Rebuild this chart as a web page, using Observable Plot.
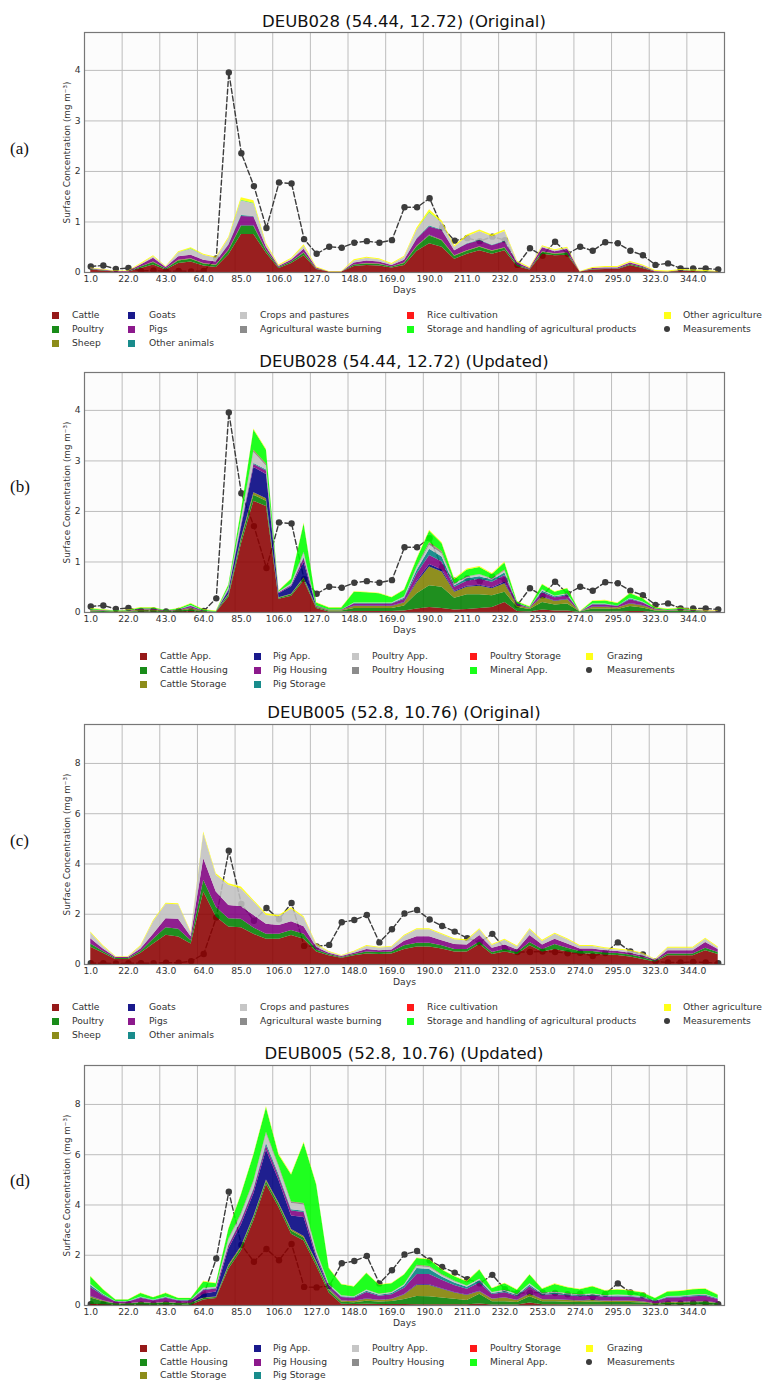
<!DOCTYPE html>
<html><head><meta charset="utf-8">
<script src="https://cdn.jsdelivr.net/npm/d3@7"></script>
<script src="https://cdn.jsdelivr.net/npm/@observablehq/plot@0.6"></script>
<style>
body{margin:0;background:#fff;}
#page{position:relative;width:764px;height:1381px;overflow:hidden;font-family:"DejaVu Sans",sans-serif;background:#fff;}
.title{position:absolute;left:84px;width:640px;text-align:center;font-size:16.5px;color:#111;line-height:1;transform:translateY(-50%);white-space:nowrap;}
.plabel{position:absolute;left:10px;font-family:"Liberation Serif",serif;font-size:17px;color:#111;line-height:1;transform:translateY(-50%);}
.leg{position:absolute;font-size:9.2px;color:#333;white-space:nowrap;line-height:1;transform:translateY(-50%);}
.sw{position:absolute;width:7px;height:7px;opacity:0.9;}
.md{position:absolute;width:6px;height:6px;border-radius:50%;background:#3c3c3c;}
.panel{position:absolute;left:0;}
</style></head><body><div id="page"></div>
<script>
// ---------- axis ticks ----------
const tickIdx = [0,3,6,9,12,15,18,21,24,27,30,33,36,39,42,45,48];
const dayLabels = ["1.0","22.0","43.0","64.0","85.0","106.0","127.0","148.0","169.0","190.0","211.0","232.0","253.0","274.0","295.0","323.0","344.0"];
const yTicksAB = [0,1,2,3,4];
const yTicksCD = [0,2,4,6,8];

// ---------- categories ----------
const origNames = ["Cattle","Poultry","Sheep","Goats","Pigs","Other animals","Crops and pastures","Agricultural waste burning","Rice cultivation","Storage and handling of agricultural products","Other agriculture"];
const updNames = ["Cattle App.","Cattle Housing","Cattle Storage","Pig App.","Pig Housing","Pig Storage","Poultry App.","Poultry Housing","Poultry Storage","Mineral App.","Grazing"];
const palette = ["#8b0000","#008000","#808000","#000080","#800080","#008080","#c0c0c0","#808080","#ff0000","#00ff00","#ffff00"];

// ---------- measurements ----------
const measDEUB028 = [.12,.14,.07,.09,.03,.04,.02,.03,.02,.03, .28,3.96,2.36,1.71,.88,1.78,1.76,.66,.37,.51, .49,.59,.62,.59,.64,1.29,1.29,1.47,.89,.63, .68,.62,.71,.64,.15,.48,.33,.61,.37,.51, .43,.60,.58,.43,.34,.15,.18,.08,.08,.08,.06];
const measDEUB005 = [.05,.05,.04,.05,.05,.05,.07,.07,.13,.42, 1.87,4.53,2.41,1.74,2.25,1.80,2.45,.74,.72,.78, 1.68,1.77,1.97,.88,1.40,2.03,2.17,1.79,1.53,1.31, 1.05,.88,1.22,.65,.50,.50,.52,.50,.45,.47, .34,.46,.88,.52,.40,.12,.08,.08,.10,.08,.05];

const noContribution = [0,0,0,0,0,0,0,0,0,0, 0,0,0,0,0,0,0,0,0,0, 0,0,0,0,0,0,0,0,0,0, 0,0,0,0,0,0,0,0,0,0, 0,0,0,0,0,0,0,0,0,0,0];

// ---------- (a) DEUB028 Original ----------
const cattleA = [.05,.03,.01,.01,.08,.15,.05,.18,.21,.13, .10,.35,.75,.75,.38,.08,.18,.33,.06,.01, .01,.12,.14,.13,.09,.14,.42,.57,.50,.26, .36,.43,.36,.43,.12,.05,.36,.33,.34,.01, .05,.06,.06,.14,.08,.01,.01,.02,.02,.01,.01];
const poultryA = [.01,.01,0,0,.03,.05,.02,.05,.05,.04, .04,.08,.16,.16,.05,.02,.03,.05,.01,0, 0,.03,.03,.03,.02,.04,.09,.15,.13,.06, .06,.07,.06,.05,.03,.01,.04,.03,.04,0, .01,.01,.01,.02,.02,0,0,.01,.01,.01,0];
const sheepA = [0,0,0,0,0,.01,0,.01,.01,.01, .01,.01,.01,.01,.01,0,0,.01,0,0, 0,0,.01,.01,0,.01,.01,.01,.01,.01, .01,.01,.01,.01,0,0,.01,.01,.01,0, 0,0,0,0,0,0,0,0,0,0,0];
const goatsA = [0,0,0,0,0,0,0,0,0,0, 0,0,.01,.01,0,0,0,0,0,0, 0,0,0,0,0,0,0,.01,0,0, 0,0,0,0,0,0,0,0,0,0, 0,0,0,0,0,0,0,0,0,0,0];
const pigsA = [.01,.01,.01,.01,.04,.07,.03,.07,.07,.06, .06,.10,.18,.17,.06,.02,.03,.07,.02,0, 0,.04,.05,.04,.03,.05,.14,.16,.19,.10, .13,.12,.10,.12,.04,.02,.08,.04,.07,0, .02,.02,.02,.03,.02,.01,0,.01,0,0,0];
const otherAnimalsA = [0,0,0,0,0,0,0,0,0,0, 0,.01,.02,.01,0,0,0,0,0,0, 0,0,0,0,0,0,.01,.02,.01,0, .01,.01,.01,.01,0,0,0,0,0,0, 0,0,0,0,0,0,0,0,0,0,0];
const cropsA = [.01,0,0,0,.01,.03,.01,.08,.12,.10, .07,.12,.29,.25,.05,.01,.02,.06,0,0, 0,.04,.05,.04,.02,.06,.17,.26,.14,.07, .14,.17,.17,.19,.02,0,.02,.02,.02,0, 0,.01,.01,.01,.01,0,0,0,0,0,0];
const storageA = [0,0,0,0,0,0,0,0,.01,0, 0,0,.01,.01,0,0,0,0,0,0, 0,0,0,0,0,0,0,.01,0,0, 0,0,0,0,0,0,0,0,0,0, 0,0,0,0,0,0,0,0,0,0,0];
const otherAgrA = [.01,.01,.01,.01,.02,.02,.01,.02,.02,.02, .02,.03,.05,.05,.03,.02,.02,.03,.02,.01, .01,.02,.02,.02,.02,.02,.04,.05,.04,.03, .03,.03,.03,.03,.02,.02,.02,.02,.02,.01, .02,.02,.02,.02,.02,.02,.02,.02,.02,.02,.01];

// ---------- (b) DEUB028 Updated ----------
const cattleAppB = [.01,0,0,0,.01,.01,0,.01,.02,0, 0,.30,1.35,2.2,2.1,.26,.32,.63,.08,.01, .01,.02,.02,.02,.02,.03,.07,.10,.08,.05, .06,.08,.10,.20,.02,.01,.05,.03,.03,0, .01,.01,.01,.02,.02,0,0,0,0,0,0];
const cattleHouB = [.02,.02,.01,.01,.02,.02,.01,.02,.03,.01, .01,.04,.08,.12,.10,.02,.03,.04,.02,.02, .02,.06,.06,.06,.06,.10,.30,.43,.42,.23, .29,.27,.23,.20,.08,.05,.15,.12,.14,.01, .06,.06,.05,.10,.07,.03,.02,.03,.02,.01,.01];
const cattleStoB = [.01,.01,.01,.01,.02,.02,.01,.01,.03,.01, 0,.02,.04,.05,.05,.01,.01,.02,.01,.01, .01,.04,.04,.04,.04,.06,.22,.37,.30,.12, .15,.17,.14,.17,.03,.02,.10,.07,.08,0, .03,.03,.03,.05,.04,.02,.01,.01,.01,.01,0];
const pigAppB = [0,0,0,0,0,0,0,0,.01,0, 0,.06,.20,.50,.48,.08,.15,.30,.01,0, 0,.01,.01,.01,.01,.01,.03,.05,.04,.02, .02,.02,.02,.03,.01,0,.01,.01,.01,0, .01,.01,0,.01,.01,0,0,0,0,0,0];
const pigHouB = [.01,.01,0,.01,.02,.02,.01,.01,.03,.01, 0,.02,.04,.06,.07,.02,.02,.08,.01,.01, .01,.04,.04,.04,.04,.06,.14,.18,.16,.08, .10,.12,.11,.13,.03,.01,.08,.06,.07,0, .04,.04,.03,.07,.05,.02,.01,.02,.01,.01,.01];
const pigStoB = [0,0,0,0,0,0,0,0,.01,0, 0,.01,.02,.02,.02,0,.01,.02,0,0, 0,.01,.01,.01,.01,.02,.07,.12,.10,.03, .05,.05,.04,.05,.01,0,.03,.02,.02,0, .01,.01,.01,.02,.01,0,0,0,0,0,0];
const poultryAppB = [0,0,0,0,0,0,0,0,.01,0, 0,.03,.10,.22,.08,.01,.02,.08,0,0, 0,.01,.01,.01,.01,.02,.05,.08,.06,.03, .03,.03,.02,.04,0,0,.02,.01,.02,0, .01,.01,0,.01,.01,0,0,0,0,0,0];
const poultryHouB = [0,0,0,0,0,0,0,0,0,0, 0,.01,.02,.03,.03,0,.01,.02,0,0, 0,0,0,0,0,.01,.02,.04,.03,.01, .01,.01,.01,.01,0,0,.01,0,0,0, 0,0,0,0,0,0,0,0,0,0,0];
const poultryStoB = [0,0,0,0,0,0,0,0,0,0, 0,0,0,.01,.01,0,0,0,0,0, 0,0,0,0,0,0,0,.01,.01,0, 0,0,0,.01,0,0,0,0,0,0, 0,0,0,0,0,0,0,0,0,0,0];
const mineralB = [.02,.01,.01,.01,.02,.02,.01,.02,.03,.02, .01,.05,.15,.40,.27,.02,.09,.56,.06,.04, .04,.21,.20,.18,.10,.13,.15,.23,.16,.08, .13,.14,.08,.14,.03,.02,.10,.08,.10,0, .05,.06,.05,.09,.06,.02,.02,.02,.01,0,0];
const grazingB = [.01,.01,0,.01,.01,.01,0,.01,.01,.01, .01,.01,.02,.02,.02,.01,.01,.02,.01,.01, .01,.01,.01,.01,.01,.01,.02,.02,.02,.02, .02,.02,.02,.02,.01,.01,.01,.01,.01,.01, .01,.01,.01,.01,.01,.01,.01,.01,.01,.01,.01];

// ---------- (c) DEUB005 Original ----------
const cattleC = [.69,.45,.20,.20,.45,.82,1.16,1.09,.82,2.88, 1.89,1.49,1.46,1.20,1.00,1.00,1.15,1.00,.50,.35, .25,.35,.42,.40,.42,.60,.70,.70,.62,.50, .50,.80,.40,.50,.40,.75,.50,.60,.50,.42, .42,.38,.36,.30,.20,.10,.35,.35,.35,.55,.40];
const poultryC = [.13,.07,.04,.04,.07,.18,.30,.31,.13,.47, .39,.33,.34,.25,.20,.20,.20,.20,.08,.05, .03,.05,.08,.08,.08,.15,.15,.15,.13,.10, .10,.10,.08,.10,.08,.13,.10,.20,.15,.10, .10,.08,.08,.08,.08,.03,.07,.07,.07,.10,.08];
const pigsC = [.20,.10,.04,.04,.10,.20,.36,.40,.15,.86, .60,.53,.50,.50,.40,.35,.35,.30,.10,.05, .04,.05,.10,.07,.08,.18,.25,.25,.20,.20, .18,.25,.17,.18,.10,.27,.18,.20,.17,.10, .10,.09,.08,.07,.06,.03,.13,.13,.13,.23,.12];
const cropsC = [.23,.10,.02,.02,.10,.50,.58,.58,.15,.99, .67,.80,.70,.55,.35,.35,.50,.35,.10,.04, .02,.05,.12,.11,.11,.19,.28,.28,.23,.18, .16,.23,.11,.18,.12,.23,.14,.20,.16,.10, .10,.08,.06,.08,.08,.03,.10,.10,.10,.12,.06];
const otherAgrC = [.04,.04,.02,.02,.04,.05,.04,.04,.04,.07, .06,.06,.08,.05,.07,.05,.06,.05,.04,.03, .02,.03,.04,.03,.03,.04,.04,.04,.04,.04, .04,.04,.04,.04,.04,.04,.04,.04,.04,.04, .04,.04,.04,.04,.03,.02,.04,.04,.04,.04,.04];

// ---------- (d) DEUB005 Updated ----------
const cattleAppD = [.05,.03,.01,.01,.02,.01,.02,.01,.01,.22, .28,1.44,2.17,3.37,4.81,3.9,2.84,2.57,1.57,.5, .05,.04,.05,.04,.04,.04,.03,.03,.03,.03, .03,.06,.02,.02,.02,.1,.03,.03,.02,.02, .02,.02,.02,.02,.02,.01,.02,.02,.02,.02,.01];
const cattleHouD = [.25,.12,.05,.05,.08,.06,.08,.06,.06,.06, .04,.1,.12,.12,.12,.12,.12,.12,.12,.1, .08,.07,.12,.1,.12,.2,.33,.32,.27,.22, .17,.39,.13,.13,.1,.25,.12,.12,.11,.1, .12,.1,.1,.1,.08,.04,.07,.07,.09,.1,.06];
const cattleStoD = [.05,.03,.01,.01,.02,.02,.02,.02,.02,.02, .02,.06,.06,.06,.06,.06,.06,.06,.06,.05, .05,.05,.08,.06,.08,.18,.44,.45,.35,.25, .2,.1,.1,.15,.08,.1,.08,.08,.07,.06, .06,.05,.05,.05,.04,.02,.03,.03,.03,.03,.02];
const pigAppD = [.02,.01,0,0,.01,0,.01,0,0,.15, .2,.65,.85,.9,1.2,.89,.54,.75,.15,.05, .01,.01,.02,.01,.01,.02,.03,.03,.02,.02, .02,.02,.01,.01,.01,.02,.01,.01,.01,.01, .02,.01,.01,.01,.01,0,.01,.01,.01,.01,.01];
const pigHouD = [.35,.2,.07,.07,.16,.1,.16,.09,.09,.15, .12,.12,.15,.15,.16,.15,.2,.2,.1,.08, .13,.12,.25,.16,.18,.25,.4,.4,.33,.28, .23,.33,.18,.2,.15,.28,.17,.2,.18,.16, .16,.15,.16,.15,.14,.08,.17,.18,.2,.21,.14];
const pigStoD = [.08,.04,.01,.01,.03,.02,.03,.02,.02,.03, .02,.03,.04,.05,.1,.08,.05,.05,.04,.02, .03,.03,.05,.04,.05,.09,.24,.2,.13,.1, .08,.08,.04,.05,.04,.06,.04,.05,.04,.04, .04,.03,.04,.03,.03,.02,.03,.03,.04,.04,.03];
const poultryAppD = [.04,.02,.01,.01,.02,.01,.02,.01,.01,.05, .04,.2,.2,.25,.38,.3,.25,.25,.1,.04, .03,.02,.04,.03,.03,.04,.08,.08,.06,.05, .04,.05,.03,.04,.03,.05,.03,.04,.03,.03, .03,.03,.03,.03,.02,.01,.02,.02,.02,.02,.01];
const poultryHouD = [.01,0,0,0,0,0,0,0,0,.01, .01,.04,.05,.05,.05,.05,.05,.05,.03,.01, .01,.01,.01,.01,.01,.01,.04,.03,.02,.02, .01,.01,.01,.01,.01,.01,.01,.01,.01,.01, .01,.01,.01,.01,.01,0,.01,.01,.01,.01,0];
const poultryStoD = [0,0,0,0,0,0,0,0,0,0, 0,.01,.01,.01,.01,.01,.01,.01,.01,0, 0,0,0,0,0,0,.01,.01,.01,0, 0,0,0,0,0,0,0,0,0,0, 0,0,0,0,0,0,0,0,0,0,0];
const mineralD = [.29,.18,.06,.06,.14,.09,.14,.07,.07,.25, .14,.37,.75,1.03,.98,.42,1.07,2.4,2.61,.62, .44,.39,.65,.36,.35,.38,.27,.26,.19,.17, .16,.37,.15,.26,.17,.34,.16,.3,.24,.2, .29,.18,.2,.18,.15,.1,.18,.19,.21,.21,.13];
const grazingD = [.02,.02,.01,.01,.02,.01,.02,.01,.01,.02, .02,.03,.03,.04,.05,.05,.04,.04,.04,.03, .02,.02,.02,.02,.02,.02,.02,.02,.02,.02, .02,.02,.02,.02,.02,.02,.02,.03,.02,.02, .02,.02,.02,.02,.02,.01,.02,.02,.02,.02,.02];

// ---------- layout ----------
const page = document.getElementById("page");

function panel(cfg) {
  const data = [];
  cfg.series.forEach((arr, k) => arr.forEach((v, i) => data.push({i, s: cfg.names[k], v})));
  const meas = cfg.meas.map((v, i) => ({i, v}));
  const svg = Plot.plot({
    width: 764, height: 276,
    marginLeft: 84, marginRight: 40, marginTop: 8, marginBottom: 28,
    style: {fontFamily: "DejaVu Sans", fontSize: "9.2px", color: "#333", background: "transparent", overflow: "visible"},
    x: {domain: [-0.5, 50.5]},
    y: {domain: [0, cfg.ymax]},
    color: {domain: cfg.names, range: palette},
    marks: [
      Plot.frame({fill: "#fcfcfc"}),
      Plot.gridX(tickIdx.map(t => t - 0.5), {stroke: "#bdbdbd", strokeOpacity: 1, strokeWidth: 1}),
      Plot.gridY(cfg.yticks, {stroke: "#bdbdbd", strokeOpacity: 1, strokeWidth: 1}),
      Plot.line(meas, {x: "i", y: "v", stroke: "#3c3c3c", strokeWidth: 1.4, strokeDasharray: "5,2.6", clip: true}),
      Plot.dot(meas, {x: "i", y: "v", r: 3.2, fill: "#3c3c3c", clip: true}),
      Plot.areaY(data, {x: "i", y: "v", z: "s", fill: "s", order: cfg.names, fillOpacity: 0.88}),
      Plot.frame({stroke: "#777", strokeWidth: 1.2}),
      Plot.axisX(tickIdx, {tickSize: 0, tickPadding: 3, tickFormat: d => dayLabels[tickIdx.indexOf(d)], label: null, fill: "#333"}),
      Plot.axisY(cfg.yticks, {tickSize: 0, tickPadding: 4, tickFormat: d => String(d), label: null, fill: "#333"}),
      Plot.text(["Days"], {frameAnchor: "bottom", dy: 20, fontSize: 9.2, fill: "#333"}),
      Plot.text(["Surface Concentration (mg m\u207B\u00B3)"], {frameAnchor: "left", textAnchor: "middle", lineAnchor: "middle", rotate: -90, dx: -17, fontSize: 8.8, fill: "#333"})
    ]
  });
  svg.classList.add("panel");
  svg.style.top = cfg.top + "px";
  page.appendChild(svg);
}

function title(text, y) {
  const d = document.createElement("div");
  d.className = "title"; d.textContent = text; d.style.top = y + "px";
  page.appendChild(d);
}
function plabel(text, y) {
  const d = document.createElement("div");
  d.className = "plabel"; d.textContent = text; d.style.top = y + "px";
  page.appendChild(d);
}
const legendCols = [[0,1,2],[3,4,5],[6,7],[8,9],[10,"M"]];
function legend(names, cols, rows) {
  legendCols.forEach((col, c) => {
    col.forEach((k, r) => {
      const y = rows[r];
      const [mx, tx] = cols[c];
      const m = document.createElement("div");
      if (k === "M") {
        m.className = "md";
        m.style.left = (mx - 3) + "px"; m.style.top = (y - 3) + "px";
      } else {
        m.className = "sw";
        m.style.background = palette[k];
        m.style.left = (mx - 3.5) + "px"; m.style.top = (y - 3.5) + "px";
      }
      page.appendChild(m);
      const t = document.createElement("div");
      t.className = "leg";
      t.textContent = k === "M" ? "Measurements" : names[k];
      t.style.left = tx + "px"; t.style.top = y + "px";
      page.appendChild(t);
    });
  });
}

const origCols = [[55,72],[131,149],[243,260],[410,427],[667,683]];
const updCols = [[143,160],[257,273],[355,372],[473,490],[589,607]];

// (a)
title("DEUB028 (54.44, 12.72) (Original)", 21.5);
panel({top: 24, ymax: 4.75, yticks: yTicksAB, names: origNames, meas: measDEUB028,
  series: [cattleA, poultryA, sheepA, goatsA, pigsA, otherAnimalsA, cropsA, noContribution, noContribution, storageA, otherAgrA]});
plabel("(a)", 148);
legend(origNames, origCols, [315, 329, 343]);

// (b)
title("DEUB028 (54.44, 12.72) (Updated)", 361.5);
panel({top: 364, ymax: 4.75, yticks: yTicksAB, names: updNames, meas: measDEUB028,
  series: [cattleAppB, cattleHouB, cattleStoB, pigAppB, pigHouB, pigStoB, poultryAppB, poultryHouB, poultryStoB, mineralB, grazingB]});
plabel("(b)", 486);
legend(updNames, updCols, [656, 670, 684]);

// (c)
title("DEUB005 (52.8, 10.76) (Original)", 713);
panel({top: 716, ymax: 9.55, yticks: yTicksCD, names: origNames, meas: measDEUB005,
  series: [cattleC, poultryC, noContribution, noContribution, pigsC, noContribution, cropsC, noContribution, noContribution, noContribution, otherAgrC]});
plabel("(c)", 840);
legend(origNames, origCols, [1007, 1021, 1035]);

// (d)
title("DEUB005 (52.8, 10.76) (Updated)", 1054);
panel({top: 1057, ymax: 9.55, yticks: yTicksCD, names: updNames, meas: measDEUB005,
  series: [cattleAppD, cattleHouD, cattleStoD, pigAppD, pigHouD, pigStoD, poultryAppD, poultryHouD, poultryStoD, mineralD, grazingD]});
plabel("(d)", 1180);
legend(updNames, updCols, [1348, 1362, 1375]);

// sanity check of series lengths
const all = {measDEUB028, measDEUB005, noContribution, cattleA, poultryA, sheepA, goatsA, pigsA, otherAnimalsA, cropsA, storageA, otherAgrA,
  cattleAppB, cattleHouB, cattleStoB, pigAppB, pigHouB, pigStoB, poultryAppB, poultryHouB, poultryStoB, mineralB, grazingB,
  cattleC, poultryC, pigsC, cropsC, otherAgrC,
  cattleAppD, cattleHouD, cattleStoD, pigAppD, pigHouD, pigStoD, poultryAppD, poultryHouD, poultryStoD, mineralD, grazingD};
const bad = Object.entries(all).filter(([k, a]) => a.length !== 51).map(([k, a]) => k + ":" + a.length);
if (bad.length) console.error("length mismatch", bad.join(", "));
</script></body></html>
